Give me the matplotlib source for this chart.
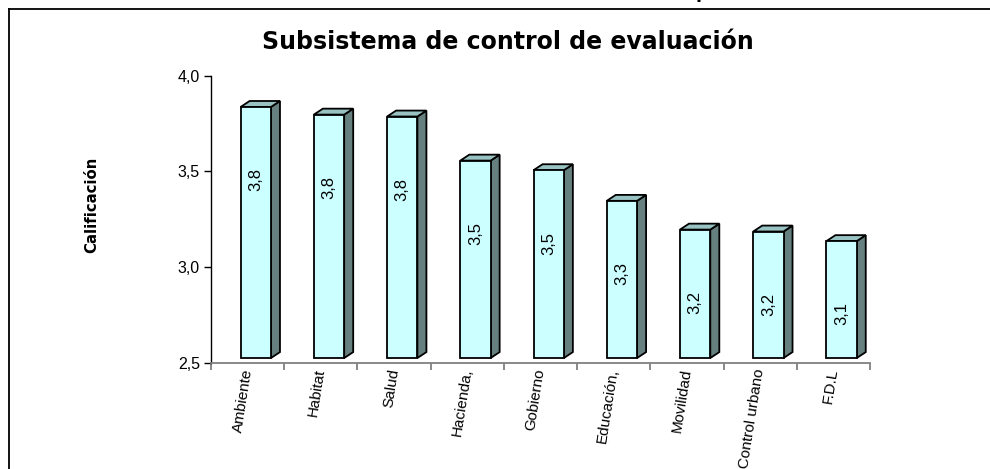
import matplotlib
matplotlib.use("Agg")
import matplotlib.pyplot as plt
from matplotlib.patches import Polygon, Rectangle
from matplotlib.ticker import FuncFormatter, FixedLocator
import numpy as np

plt.rcParams['font.family'] = ['Liberation Sans', 'DejaVu Sans']

categories = ["Ambiente", "Habitat", "Salud", "Hacienda,", "Gobierno",
              "Educación,", "Movilidad", "Control urbano", "F.D.L"]
values = [3.81, 3.77, 3.76, 3.53, 3.48, 3.32, 3.17, 3.16, 3.11]
yticks = [2.5, 3.0, 3.5, 4.0]
title = "Subsistema de control de evaluación"
ylabel = "Calificación"

W, H = 990, 469
fig = plt.figure(figsize=(W / 100, H / 100), dpi=100)

# frame around chart (left and top visible)
fig.add_artist(plt.Line2D([8.5 / W, 8.5 / W], [0, 1 - 9.5 / H], color='black', lw=1.3,
                          transform=fig.transFigure))
fig.add_artist(plt.Line2D([8.5 / W, 1], [1 - 9.5 / H, 1 - 9.5 / H], color='black', lw=1.3,
                          transform=fig.transFigure))
# fragment of an outer heading, clipped at the top edge
fig.text(702 / W, 1 + 2.5 / H, "p", fontsize=16, fontweight='bold', ha='center',
         va='baseline')

ax = fig.add_axes([211 / W, 1 - 363 / H, 659 / W, (363 - 75.5) / H])
ax.set_xlim(0, len(categories))
ax.set_ylim(yticks[0], yticks[-1])

front_color = '#CCFFFF'
top_color = '#99C2C2'
side_color = '#668080'
bw = 0.414
x0 = 0.405
dx = 0.123
dy = 0.031
off = 0.026
base = yticks[0] + off

for i, v in enumerate(values):
    top = v + off
    xl = i + x0
    xr = xl + bw
    ax.add_patch(Polygon([[xr, base], [xr + dx, base + dy], [xr + dx, top + dy], [xr, top]],
                         closed=True, facecolor=side_color, edgecolor='black', lw=1.3,
                         joinstyle='miter', zorder=3))
    ax.add_patch(Polygon([[xl, top], [xr, top], [xr + dx, top + dy], [xl + dx, top + dy]],
                         closed=True, facecolor=top_color, edgecolor='black', lw=1.3,
                         joinstyle='miter', zorder=3))
    ax.add_patch(Rectangle((xl, base), bw, top - base, facecolor=front_color,
                           edgecolor='black', lw=1.3, joinstyle='miter', zorder=4))
    ax.text(xl + bw / 2, top - 0.38, f"{v:.1f}".replace('.', ','), rotation=90,
            ha='center', va='center', fontsize=12, zorder=5)

for s in ['top', 'right']:
    ax.spines[s].set_visible(False)
ax.spines['left'].set_color('black')
ax.spines['left'].set_linewidth(1.0)
ax.spines['bottom'].set_color('#808080')
ax.spines['bottom'].set_linewidth(1.3)

ax.yaxis.set_major_locator(FixedLocator(yticks))
ax.yaxis.set_major_formatter(FuncFormatter(lambda y, p: f"{y:.1f}".replace('.', ',')))
ax.tick_params(axis='y', direction='out', length=5, width=1.0, color='black',
               labelsize=11.5, pad=3)

ax.xaxis.set_major_locator(FixedLocator(np.arange(len(categories) + 1)))
ax.xaxis.set_major_formatter(FuncFormatter(lambda x, p: ""))
ax.xaxis.set_minor_locator(FixedLocator(np.arange(len(categories)) + 0.5))
ax.set_xticklabels(categories, minor=True)
ax.tick_params(axis='x', which='major', direction='out', length=5, width=1.3, color='#808080')
ax.tick_params(axis='x', which='minor', length=0, labelsize=11, pad=4)
for lab in ax.get_xticklabels(minor=True):
    lab.set_rotation(81)
    lab.set_ha('right')
    lab.set_va('center')
    lab.set_rotation_mode('anchor')

fig.text(92 / W, 1 - 205 / H, ylabel, rotation=90, ha='center', va='center',
         fontsize=10.7, fontweight='bold', family=['DejaVu Sans'])
fig.text(508 / W, 1 - 42 / H, title, ha='center', va='center',
         fontsize=17, fontweight='bold', family=['DejaVu Sans'])

fig.savefig("out.png", dpi=100)
